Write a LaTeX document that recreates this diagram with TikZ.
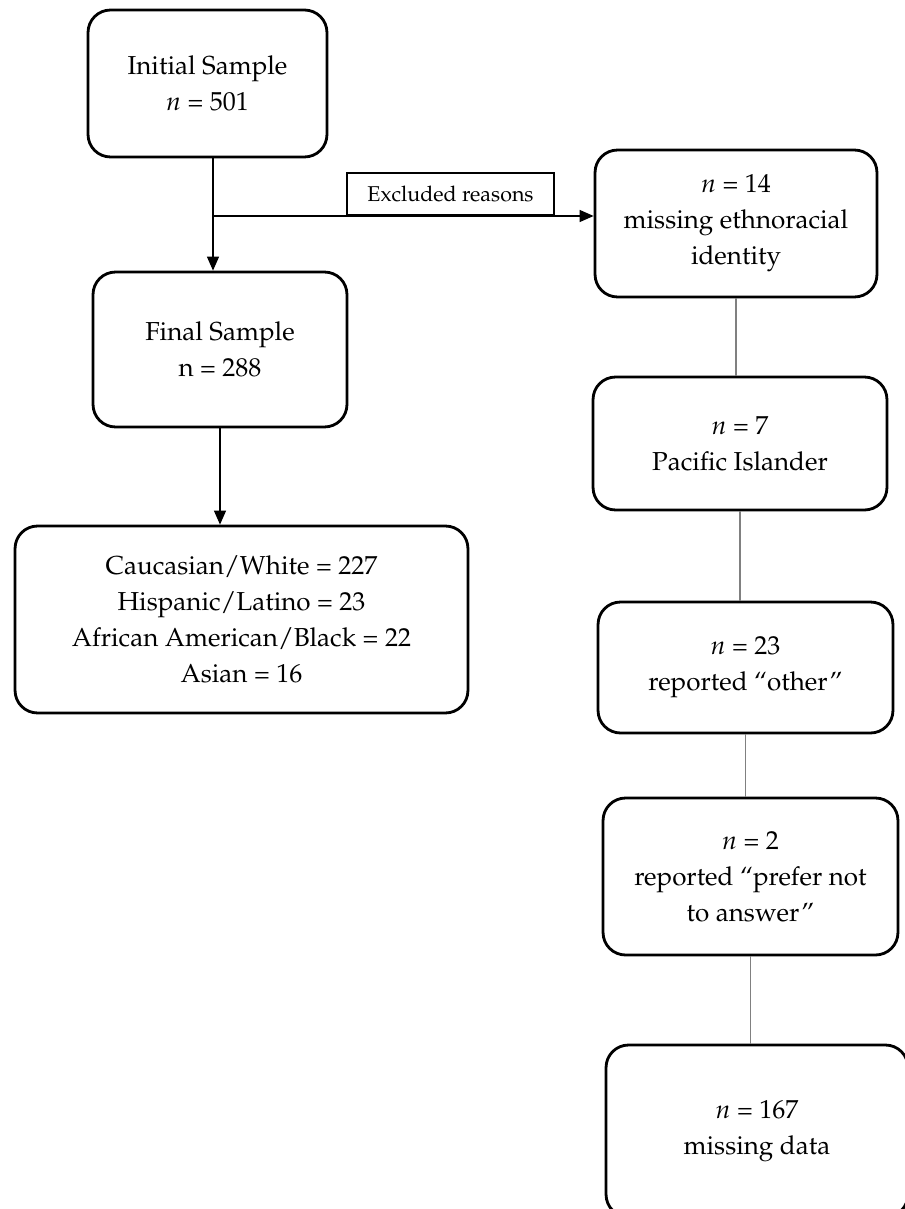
\documentclass[tikz,border=0pt]{standalone}
\usepackage[T1]{fontenc}
\usepackage{mathpazo}
\usetikzlibrary{arrows.meta}

\begin{document}
\begin{tikzpicture}[
  x=0.02cm, y=-0.02cm,
  font=\fontsize{14.8}{20.5}\selectfont,
  box/.style={draw,line width=1.6pt,rounded corners=4.5mm,align=center,inner sep=0pt},
  tag/.style={draw,line width=1.1pt,inner sep=0pt,font=\fontsize{12.2}{14}\selectfont},
  arrow/.style={-{Triangle[length=2.8mm,width=2.4mm]},line width=0.7pt},
  link/.style={draw=gray,line width=0.6pt}
]
  \useasboundingbox (0,0) rectangle (905,1209);
  \clip (0,0) rectangle (905,1209);
  % left column
  \node[box,minimum width=4.78cm,minimum height=2.94cm] (init) at (207.5,83.5) {Initial Sample\\$n$ = 501};
  \node[box,minimum width=5.08cm,minimum height=3.10cm] (final) at (220,349.5) {Final Sample\\n = 288};
  \node[box,minimum width=9.06cm,minimum height=3.74cm] (groups) at (241.5,619.5) {Caucasian/White = 227\\Hispanic/Latino = 23\\African American/Black = 22\\Asian = 16};
  % exclusions
  \node[tag,minimum width=4.14cm,minimum height=0.84cm] (excl) at (450.5,194) {Excluded reasons};
  \node[box,minimum width=5.64cm,minimum height=2.94cm] (miss14) at (736,223.5) {$n$ = 14\\missing ethnoracial\\identity};
  \node[box,minimum width=5.88cm,minimum height=2.66cm] (pacific) at (740,443.5) {$n$ = 7\\Pacific Islander};
  \node[box,minimum width=5.90cm,minimum height=2.62cm] (other) at (745.5,667.5) {$n$ = 23\\reported ``other''};
  \node[box,minimum width=5.90cm,minimum height=3.14cm] (prefer) at (750.5,876.5) {$n$ = 2\\reported ``prefer not\\to answer''};
  \node[box,minimum width=6.04cm,minimum height=3.44cm] (missing) at (757,1131) {$n$ = 167\\missing data};
  \coordinate (split) at (213,216);
  \draw[arrow] (init.south -| split) -- (final.north -| split);
  \draw[arrow] (split) -- (miss14.west |- split);
  \draw[arrow] (final.south) -- (final.south |- groups.north);
  \draw[link] (miss14.south) -- (miss14.south |- pacific.north);
  \draw[link] (pacific.south) -- (pacific.south |- other.north);
  \draw[link] (other.south) -- (other.south |- prefer.north);
  \draw[link] (prefer.south) -- (prefer.south |- missing.north);
\end{tikzpicture}
\end{document}
